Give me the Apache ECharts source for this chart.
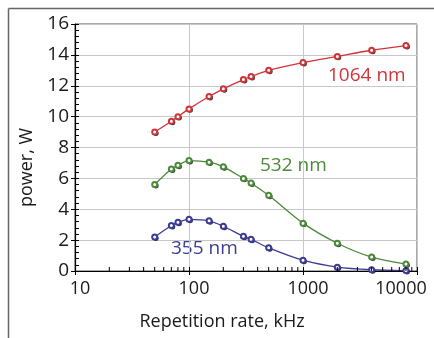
<!DOCTYPE html>
<html>
<head>
<meta charset="utf-8">
<script src="https://cdn.jsdelivr.net/npm/echarts@6/dist/echarts.min.js"></script>
<style>
  html, body { margin: 0; padding: 0; background: #fff; }
  #chart { width: 434px; height: 338px; }
</style>
</head>
<body>
<div id="chart"></div>
<script>
// repetition rate, kHz
const freq = [50, 70, 80, 100, 150, 200, 300, 350, 500, 1000, 2000, 4000, 8000];
// output power, W
const p1064 = [9.0, 9.7, 10.0, 10.5, 11.3, 11.8, 12.4, 12.6, 13.0, 13.5, 13.9, 14.3, 14.6];
const p532 = [5.6, 6.6, 6.85, 7.15, 7.05, 6.75, 6.0, 5.7, 4.9, 3.1, 1.8, 0.9, 0.45];
const p355 = [2.2, 2.95, 3.15, 3.35, 3.25, 2.9, 2.25, 2.05, 1.5, 0.7, 0.25, 0.08, 0.03];
// log minor ticks
const minorX = [20, 30, 40, 50, 60, 70, 80, 90, 200, 300, 400, 500, 600, 700, 800, 900,
  2000, 3000, 4000, 5000, 6000, 7000, 8000, 9000];

const FONT = '"Open Sans", "DejaVu Sans", sans-serif';
const RED = '#cf3438';
const GREEN = '#4c8a3a';
const BLUE = '#3c3c96';

const chart = echarts.init(document.getElementById('chart'), null, { renderer: 'canvas' });

// black dot offset down-right, drawn under each marker
function shadowSeries(data) {
  return {
    type: 'scatter',
    data: freq.map((f, i) => [f, data[i]]),
    symbol: 'circle',
    symbolSize: 5.5,
    symbolOffset: [1.2, 1.2],
    itemStyle: { color: '#000' },
    silent: true,
    z: 3,
  };
}

function powerSeries(name, data, color) {
  return {
    name: name,
    type: 'line',
    data: freq.map((f, i) => [f, data[i]]),
    smooth: 0.3,
    symbol: 'emptyCircle',
    symbolSize: 5,
    lineStyle: { color: color, width: 1.3 },
    itemStyle: { color: color, borderWidth: 1.2 },
    emphasis: { disabled: true },
    z: 4,
  };
}

const tickLabel = {
  fontFamily: FONT,
  fontSize: 18,
  color: '#1a1a1a',
};

chart.setOption({
  animation: false,
  textStyle: { fontFamily: FONT },
  grid: {
    left: 75, right: 17, top: 24, bottom: 67,
    show: true,
    borderColor: '#555',
    borderWidth: 1,
  },
  xAxis: [{
    type: 'log',
    logBase: 10,
    min: 10,
    max: 10000,
    position: 'bottom',
    axisLine: { lineStyle: { color: '#000', width: 1.2 } },
    axisTick: { show: true, length: 4, lineStyle: { color: '#000' } },
    splitLine: { show: true, lineStyle: { color: '#c8c8c8', width: 1 } },
    axisLabel: {
      margin: 9,
      formatter: v => (v === 10000 ? '{r|10000}' : '{n|' + v + '}'),
      rich: {
        n: Object.assign({ padding: [0, 0, 0, 10] }, tickLabel),
        r: Object.assign({ padding: [0, 32, 0, 0] }, tickLabel),
      },
    },
    name: 'Repetition rate, kHz',
    nameLocation: 'middle',
    nameGap: 42,
    nameTextStyle: { fontFamily: FONT, fontSize: 18, color: '#1a1a1a', padding: [0, 48, 0, 0] },
  }, {
    type: 'log',
    logBase: 10,
    min: 10,
    max: 10000,
    position: 'bottom',
    axisLine: { show: false },
    axisTick: { show: true, inside: true, length: 4, lineStyle: { color: '#000' } },
    axisLabel: { show: false },
    splitLine: { show: false },
  }],
  yAxis: [{
    type: 'value',
    min: 0,
    max: 16,
    interval: 2,
    position: 'left',
    axisLine: { show: true, lineStyle: { color: '#000', width: 1.2 } },
    axisTick: { show: true, length: 4, lineStyle: { color: '#000' } },
    splitLine: { show: true, lineStyle: { color: '#c8c8c8', width: 1 } },
    axisLabel: Object.assign({ margin: 6 }, tickLabel, { fontSize: 19 }),
    name: 'power, W',
    nameLocation: 'middle',
    nameGap: 23,
    nameTextStyle: { fontFamily: FONT, fontSize: 18, color: '#1a1a1a', padding: [0, 40, 0, 0] },
  }, {
    type: 'value',
    min: 0,
    max: 16,
    interval: 2,
    position: 'left',
    axisLine: { show: false },
    axisTick: { show: true, inside: true, length: 4, lineStyle: { color: '#000' } },
    minorTick: { show: true, splitNumber: 5, length: 4, lineStyle: { color: '#000' } },
    axisLabel: { show: false },
    splitLine: { show: false },
  }],
  series: [
    shadowSeries(p1064),
    shadowSeries(p532),
    shadowSeries(p355),
    powerSeries('1064 nm', p1064, RED),
    powerSeries('532 nm', p532, GREEN),
    powerSeries('355 nm', p355, BLUE),
    {
      type: 'custom',
      data: minorX.map(v => [v, 0]),
      clip: false,
      silent: true,
      z: 5,
      renderItem: (params, api) => {
        const pt = api.coord([api.value(0), api.value(1)]);
        return {
          type: 'line',
          shape: { x1: pt[0], y1: pt[1], x2: pt[0], y2: pt[1] - 4 },
          style: { stroke: '#000', lineWidth: 1 },
        };
      },
    },
  ],
  graphic: [
    { type: 'line', shape: { x1: 8.5, y1: 8.5, x2: 434, y2: 8.5 }, style: { stroke: '#666', lineWidth: 1.5 }, silent: true },
    { type: 'line', shape: { x1: 8.5, y1: 8.5, x2: 8.5, y2: 338 }, style: { stroke: '#666', lineWidth: 1.5 }, silent: true },
    { type: 'text', left: 328, top: 66, style: { text: '1064 nm', fill: RED, font: '19px ' + FONT } },
    { type: 'text', left: 260, top: 156, style: { text: '532 nm', fill: GREEN, font: '19px ' + FONT } },
    { type: 'text', left: 171, top: 239, style: { text: '355 nm', fill: BLUE, font: '19px ' + FONT } },
  ],
});
</script>
</body>
</html>
